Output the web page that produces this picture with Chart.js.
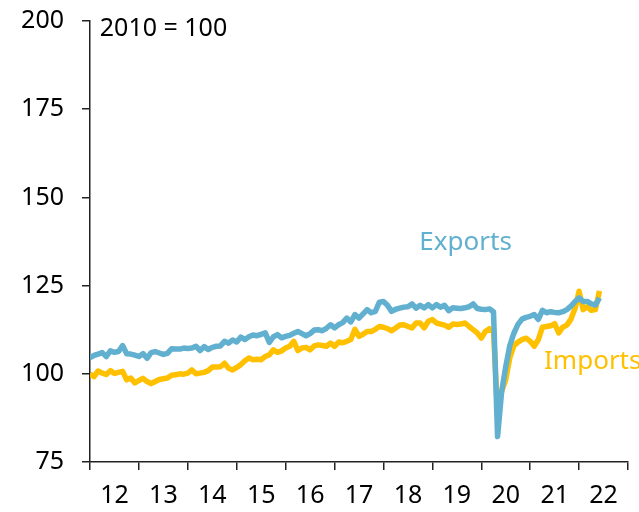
<!DOCTYPE html>
<html>
<head>
<meta charset="utf-8">
<script src="https://cdn.jsdelivr.net/npm/chart.js@4"></script>
<style>
  body { margin: 0; background: #fff; }
  canvas { display: block; }
</style>
</head>
<body>
<canvas id="tradeChart" width="639" height="512"></canvas>
<script>
// monthly index values, Jan 2012 - Jun 2022 (2010 = 100)
const yearLabels = ['12', '13', '14', '15', '16', '17', '18', '19', '20', '21', '22'];
const yTicks = [75, 100, 125, 150, 175, 200];

const exportsIdx = [
    104.6, 105.2, 105.6, 106.0, 104.9, 106.5, 106.1, 106.3, 108.0, 105.7, 105.6, 105.3,
    104.9, 105.7, 104.4, 106.0, 106.3, 105.9, 105.5, 105.8, 107.1, 107.0, 107.0, 107.3,
    107.2, 107.3, 107.8, 106.6, 107.7, 106.9, 107.5, 107.8, 107.9, 109.2, 108.7, 109.6,
    109.0, 110.4, 109.7, 110.5, 111.0, 110.8, 111.2, 111.6, 108.9, 110.5, 111.1, 110.2,
    110.6, 110.9, 111.5, 112.0, 111.4, 110.8, 111.4, 112.4, 112.5, 112.2, 112.9, 113.9,
    113.0, 113.9, 114.5, 115.8, 114.7, 116.8, 115.8, 117.0, 118.2, 117.3, 117.7, 120.3,
    120.5, 119.4, 117.7, 118.3, 118.6, 118.9, 119.0, 119.8, 118.6, 119.4, 118.7, 119.6,
    118.7, 119.6, 118.9, 119.4, 117.9, 118.7, 118.6, 118.5, 118.7, 119.0, 119.8, 118.5,
    118.3, 118.2, 118.4, 117.6, 82.2, 95.0, 102.0, 108.0, 111.5, 114.0, 115.5, 116.0,
    116.3, 116.8, 115.4, 118.0, 117.3, 117.6, 117.4, 117.3, 117.6, 118.2, 119.2, 120.5,
    121.5, 120.5, 120.5, 119.8, 119.5, 121.5
];

const importsIdx = [
    99.9, 99.2, 100.8, 100.2, 99.8, 100.9, 100.1, 100.4, 100.7, 98.3, 98.8, 97.4,
    98.1, 98.7, 97.8, 97.2, 97.8, 98.4, 98.6, 98.8, 99.6, 99.7, 100.0, 99.9,
    100.2, 101.1, 100.0, 100.2, 100.4, 100.9, 101.9, 101.9, 102.0, 103.0, 101.6, 101.1,
    101.8, 102.6, 103.7, 104.5, 104.0, 104.1, 104.0, 104.9, 105.4, 106.8, 106.1, 106.5,
    107.3, 107.8, 109.2, 106.6, 107.3, 107.5, 106.8, 107.9, 108.2, 108.0, 107.8, 108.7,
    107.8, 109.0, 108.8, 109.2, 109.7, 112.6, 110.6, 111.2, 112.0, 112.0, 112.6, 113.4,
    113.2, 112.8, 112.2, 113.0, 113.8, 113.9, 113.4, 113.0, 114.4, 114.4, 113.0, 114.9,
    115.4, 114.4, 114.1, 113.8, 113.2, 114.1, 114.0, 114.1, 114.4, 113.4, 112.5, 111.6,
    110.1, 112.0, 112.8, 112.0, 89.0, 95.0, 98.3, 104.5, 108.0, 109.0, 109.7, 110.1,
    109.2, 107.8, 109.7, 113.2, 113.4, 113.6, 114.2, 111.6, 113.2, 113.8, 115.5, 118.5,
    123.4, 118.2, 119.0, 118.0, 118.2, 123.5
];

const BLUE = '#62B0CF';
const GOLD = '#FFC000';
const FONT = '"Noto Sans", sans-serif';

const toPoints = arr => arr.map((v, i) => ({ x: i, y: v }));

// text labels on the plot
const notes = {
    id: 'notes',
    afterDatasetsDraw(chart) {
        const { ctx, scales: { x, y } } = chart;
        ctx.save();
        ctx.textBaseline = 'middle';
        ctx.textAlign = 'left';
        ctx.font = '25px ' + FONT;
        ctx.fillStyle = '#000';
        ctx.fillText('2010 = 100', x.getPixelForValue(2.4), y.getPixelForValue(197.8));
        ctx.font = '26px ' + FONT;
        ctx.fillStyle = BLUE;
        ctx.fillText('Exports', x.getPixelForValue(80.8), y.getPixelForValue(137.2));
        ctx.fillStyle = GOLD;
        ctx.fillText('Imports', x.getPixelForValue(111.4), y.getPixelForValue(103.4));
        ctx.restore();
    }
};

new Chart(document.getElementById('tradeChart'), {
    type: 'line',
    data: {
        datasets: [
            {
                label: 'Exports',
                data: toPoints(exportsIdx),
                borderColor: BLUE,
                borderWidth: 5.5,
                pointRadius: 0,
                tension: 0,
                borderJoinStyle: 'round'
            },
            {
                label: 'Imports',
                data: toPoints(importsIdx),
                borderColor: GOLD,
                borderWidth: 5.5,
                pointRadius: 0,
                tension: 0,
                borderJoinStyle: 'round'
            }
        ]
    },
    options: {
        responsive: false,
        animation: false,
        devicePixelRatio: 1,
        layout: { padding: { top: 21, right: 10, left: 0, bottom: 0 } },
        plugins: {
            legend: { display: false },
            tooltip: { enabled: false }
        },
        scales: {
            x: {
                type: 'linear',
                min: 0,
                max: 132,
                afterBuildTicks: axis => {
                    axis.ticks = [];
                    for (let m = 0; m <= 132; m += 12) axis.ticks.push({ value: m });
                },
                afterFit: axis => { axis.height = 50; },
                grid: { drawOnChartArea: false, drawTicks: true, tickLength: 8, color: '#222', lineWidth: 1.5 },
                border: { display: true, color: '#222', width: 1.5 },
                ticks: {
                    autoSkip: false,
                    maxRotation: 0,
                    labelOffset: 24.5,
                    padding: 11,
                    color: '#000',
                    font: { family: FONT, size: 25 },
                    callback: v => yearLabels[v / 12] || ''
                }
            },
            y: {
                min: 75,
                max: 200,
                afterBuildTicks: axis => { axis.ticks = yTicks.map(v => ({ value: v })); },
                afterFit: axis => {
                    axis.width = 90;
                    axis.paddingTop = 0;
                    axis.paddingBottom = 0;
                },
                grid: { drawOnChartArea: false, drawTicks: true, tickLength: 8, color: '#222', lineWidth: 1.5 },
                border: { display: true, color: '#222', width: 1.5 },
                ticks: {
                    padding: 18,
                    color: '#000',
                    font: { family: FONT, size: 25 }
                }
            }
        }
    },
    plugins: [notes]
});
</script>
</body>
</html>
